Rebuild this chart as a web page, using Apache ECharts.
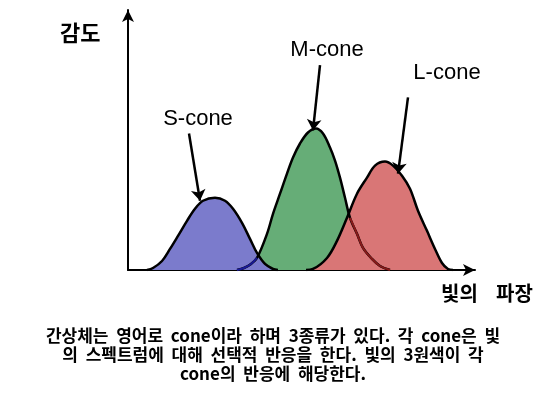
<!DOCTYPE html>
<html>
<head>
<meta charset="utf-8">
<script src="https://cdn.jsdelivr.net/npm/echarts@6/dist/echarts.min.js"></script>
<style>
  html, body { margin: 0; padding: 0; background: #fff; }
  #chart { width: 550px; height: 412px; }
</style>
</head>
<body>
<div id="chart"></div>
<script>
// 곡선 데이터 (x: 파장 축 위치, y: 감도)
const sCone = [[19, 0], [25, 2], [34, 9], [42, 21], [50, 34], [59, 49], [67, 61], [75, 69], [87, 72],
  [97, 69], [105, 61], [114, 47], [122, 31], [129, 17], [137, 6], [145, 1], [150, 0]]
const mCone = [[109, 0], [116, 2], [123, 6], [129, 12], [139, 36], [145, 56], [152, 76], [159, 96],
  [165, 112], [172, 126], [180, 137], [188, 141], [195, 136], [202, 122], [207, 109], [212, 92],
  [217, 72], [222, 52], [229, 36], [235, 22], [244, 11], [252, 4], [262, 0]]
const lCone = [[178, 0], [185, 1], [199, 12], [209, 29], [219, 52], [229, 76], [239, 92], [247, 104],
  [257, 108], [265, 104], [274, 94], [282, 81], [290, 59], [299, 39], [307, 21], [314, 7], [320, 1], [325, 0]]

// 주석 (이름, 화살표 시작, 화살표 끝, 글자 위치)
const labelNames = ['S-cone', 'M-cone', 'L-cone']
const arrowFrom = [[61, 136], [192, 204], [280, 172]]
const arrowTo = [[72, 69], [185, 139], [270, 96]]
const labelAt = [[70, 150], [199, 219], [319, 196]]

const xTitle = ['빛의', '파장']
const yTitle = '감도'
const caption = ['간상체는  영어로  cone이라  하며  3종류가  있다.  각  cone은  빛',
  '의  스펙트럼에  대해  선택적  반응을  한다.  빛의  3원색이  각',
  'cone의  반응에  해당한다.']

const chart = echarts.init(document.getElementById('chart'))

function curve(name, data, fill) {
  return {
    name: name,
    type: 'line',
    data: data,
    smooth: 0.35,
    symbol: 'none',
    lineStyle: { color: '#000', width: 2.5 },
    areaStyle: { color: fill, opacity: 1 },
  }
}

// 다른 곡선 아래로 비치는 M-cone 꼬리
function hidden(data, color) {
  return {
    type: 'line',
    data: data,
    smooth: 0.35,
    symbol: 'none',
    silent: true,
    lineStyle: { color: color, width: 2 },
  }
}

const option = {
  animation: false,
  grid: { left: 128, right: 75, top: 10, bottom: 142 },
  xAxis: {
    type: 'value',
    min: 0,
    max: 347,
    axisLine: {
      show: true,
      symbol: ['none', 'arrow'],
      symbolSize: [9, 12],
      lineStyle: { color: '#000', width: 2 },
    },
    axisTick: { show: false },
    axisLabel: { show: false },
    splitLine: { show: false },
  },
  yAxis: {
    type: 'value',
    min: 0,
    max: 259,
    axisLine: {
      show: true,
      symbol: ['none', 'arrow'],
      symbolSize: [9, 12],
      lineStyle: { color: '#000', width: 2 },
    },
    axisTick: { show: false },
    axisLabel: { show: false },
    splitLine: { show: false },
  },
  series: [
    curve('M-cone', mCone, '#66ad77'),
    curve('S-cone', sCone, '#7b7bcc'),
    curve('L-cone', lCone, '#d97676'),
    hidden(mCone.filter((d) => d[0] <= 132), '#1a1a99'),
    Object.assign(hidden(mCone.filter((d) => d[0] >= 219), '#8a1a1a'), {
      markLine: {
        silent: true,
        symbol: ['none', 'arrow'],
        symbolSize: 11,
        lineStyle: { color: '#000', width: 2.5, type: 'solid' },
        label: { show: false },
        data: labelNames.map((n, i) => [{ coord: arrowFrom[i] }, { coord: arrowTo[i] }]),
      },
      markPoint: {
        silent: true,
        symbol: 'circle',
        symbolSize: 0,
        label: {
          show: true,
          position: 'inside',
          color: '#000',
          fontSize: 22,
          fontFamily: 'Liberation Sans',
          formatter: (p) => p.name,
        },
        data: labelNames.map((n, i) => ({ name: n, coord: labelAt[i] })),
      },
    }),
  ],
  graphic: [
    { type: 'text', left: 60, top: 22, style: { text: yTitle, font: 'bold 22px "Noto Sans CJK KR"', fill: '#000' } },
    { type: 'text', left: 441, top: 283, style: { text: xTitle[0], font: 'bold 20px "Noto Sans CJK KR"', fill: '#000' } },
    { type: 'text', left: 496, top: 283, style: { text: xTitle[1], font: 'bold 20px "Noto Sans CJK KR"', fill: '#000' } },
  ].concat(caption.map((t, i) => ({
    type: 'text',
    x: 273,
    y: 336 + i * 19,
    style: {
      text: t,
      font: 'bold 17px "Noto Sans CJK KR"',
      fill: '#000',
      align: 'center',
      verticalAlign: 'middle',
    },
  }))),
}

option && chart.setOption(option)
</script>
</body>
</html>
